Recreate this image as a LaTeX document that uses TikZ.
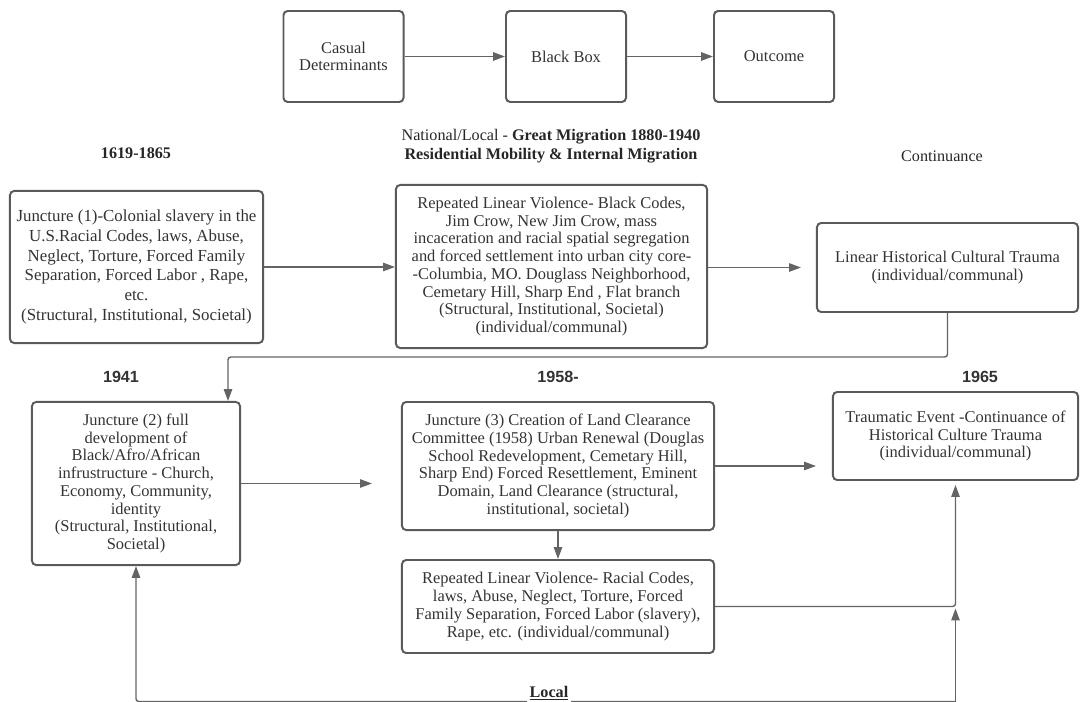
\documentclass[tikz,border=0pt]{standalone}
\usepackage{fontspec}
\setmainfont{Liberation Serif}
\newfontfamily\yearfont{Liberation Sans}
\usetikzlibrary{arrows.meta, positioning}

\definecolor{edgegray}{HTML}{5A5A5A}
\definecolor{linkgray}{HTML}{646464}
\definecolor{inkgray}{HTML}{333333}

\begin{document}
\begin{tikzpicture}[x=0.025cm, y=-0.025cm,
    box/.style 2 args={draw=edgegray, line width=1.4pt, rounded corners=3pt, align=center,
        text=inkgray, inner sep=0pt, minimum width=#1cm, minimum height=#2cm,
        font=\fontsize{11.7}{12.6}\selectfont},
    link/.style={draw=linkgray, line width=1pt, rounded corners=2pt, -{Triangle[length=8.5pt, width=6pt]}},
    heading/.style={align=center, text=black!85, font=\fontsize{11.5}{13.5}\selectfont},
    year/.style={text=black!80, font=\yearfont\bfseries\fontsize{11.5}{13.5}\selectfont}]
    \useasboundingbox (0,0) rectangle (1080,702);

    % top row: model
    \node[box={3}{2.275}] (cas) at (343.5,56.5) {Casual\\Determinants};
    \node[box={3}{2.275}] (blk) at (566,56.5) {Black Box};
    \node[box={3}{2.275}] (out) at (774,56.5) {Outcome};
    \draw[link] (cas) -- (blk);
    \draw[link] (blk) -- (out);

    % headings of the first row
    \node[heading, font=\bfseries\fontsize{11.5}{13.5}\selectfont] (hdA) at (136,153) {1619-1865};
    \node[heading] (hdB) at (551,146.5) {National/Local - \textbf{Great Migration 1880-1940}\\
        \textbf{Residential Mobility \& Internal Migration}};
    \node[heading] (hdC) at (942,156) {Continuance};

    % first row of boxes
    \node[box={6.325}{3.8}, font=\fontsize{12}{14}\selectfont] (jone) at (136.5,267)
        {Juncture (1)-Colonial slavery in the\\U.S.Racial Codes, laws, Abuse,\\
        Neglect, Torture, Forced Family\\Separation, Forced Labor , Rape,\\etc.\\
        (Structural, Institutional, Societal)};
    \node[box={7.775}{4.075}] (rlvone) at (551.5,266.5)
        {Repeated Linear Violence- Black Codes,\\Jim Crow, New Jim Crow, mass\\
        incaceration and racial spatial segregation\\and forced settlement into urban city core-\\
        -Columbia, MO. Douglass Neighborhood,\\Cemetary Hill, Sharp End , Flat branch\\
        (Structural, Institutional, Societal)\\(individual/communal)};
    \node[box={6.525}{2.225}] (lin) at (947.5,267.5)
        {Linear Historical Cultural Trauma\\(individual/communal)};

    % headings of the second row
    \node[year] (yrA) at (121,377) {1941};
    \node[year] (yrB) at (558,377) {1958-};
    \node[year] (yrC) at (980,377) {1965};

    % second row of boxes
    \node[box={5.2}{4.075}] (jtwo) at (136,483.5)
        {Juncture (2) full\\development of\\Black/Afro/African\\infrustructure - Church,\\
        Economy, Community,\\identity\\(Structural, Institutional,\\Societal)};
    \node[box={7.8}{3.2}] (jthree) at (558,466)
        {Juncture (3) Creation of Land Clearance\\Committee (1958) Urban Renewal (Douglas\\
        School Redevelopment, Cemetary Hill,\\Sharp End) Forced Resettlement, Eminent\\
        Domain, Land Clearance (structural,\\institutional, societal)};
    \node[box={6.125}{2.2}] (trm) at (955.5,436)
        {Traumatic Event -Continuance of\\Historical Culture Trauma\\(individual/communal)};
    \node[box={7.8}{2.325}] (rlvtwo) at (558,606.5)
        {Repeated Linear Violence- Racial Codes,\\laws, Abuse, Neglect, Torture, Forced\\
        Family Separation, Forced Labor (slavery),\\Rape, etc. (individual/communal)};

    % turning points of the connectors
    \coordinate (bendtop) at (228,357);
    \coordinate (lowL) at (136,701.5);
    \coordinate (lowR) at (955.5,701.5);
    \coordinate (meet) at (rlvtwo.east -| trm.south);

    % connectors
    \draw[link] (jone.east) -- (jone.east -| rlvone.west);
    \draw[link, shorten >=3.75mm] (rlvone.east |- lin.west) -- (lin.west);
    \draw[link] (lin.south) |- (bendtop) -- (bendtop |- jtwo.north);
    \draw[link, shorten >=7.25mm] (jtwo.east) -- (jtwo.east -| jthree.west);
    \draw[link, shorten >=4mm] (jthree.east) -- (jthree.east -| trm.west);
    \draw[link] (jthree.south) -- (rlvtwo.north);
    \draw[link, shorten >=1mm] (rlvtwo.east) -| (trm.south);
    \draw[link] (lowR) -- (lowL) -- (jtwo.south);
    \draw[link, shorten >=0.5mm] (lowR) -- (meet);

    % bottom label on the line
    \node[heading, fill=white, inner sep=2pt, font=\bfseries\fontsize{11.5}{13.5}\selectfont] (loc) at (549,693) {\underline{Local}};
\end{tikzpicture}
\end{document}
